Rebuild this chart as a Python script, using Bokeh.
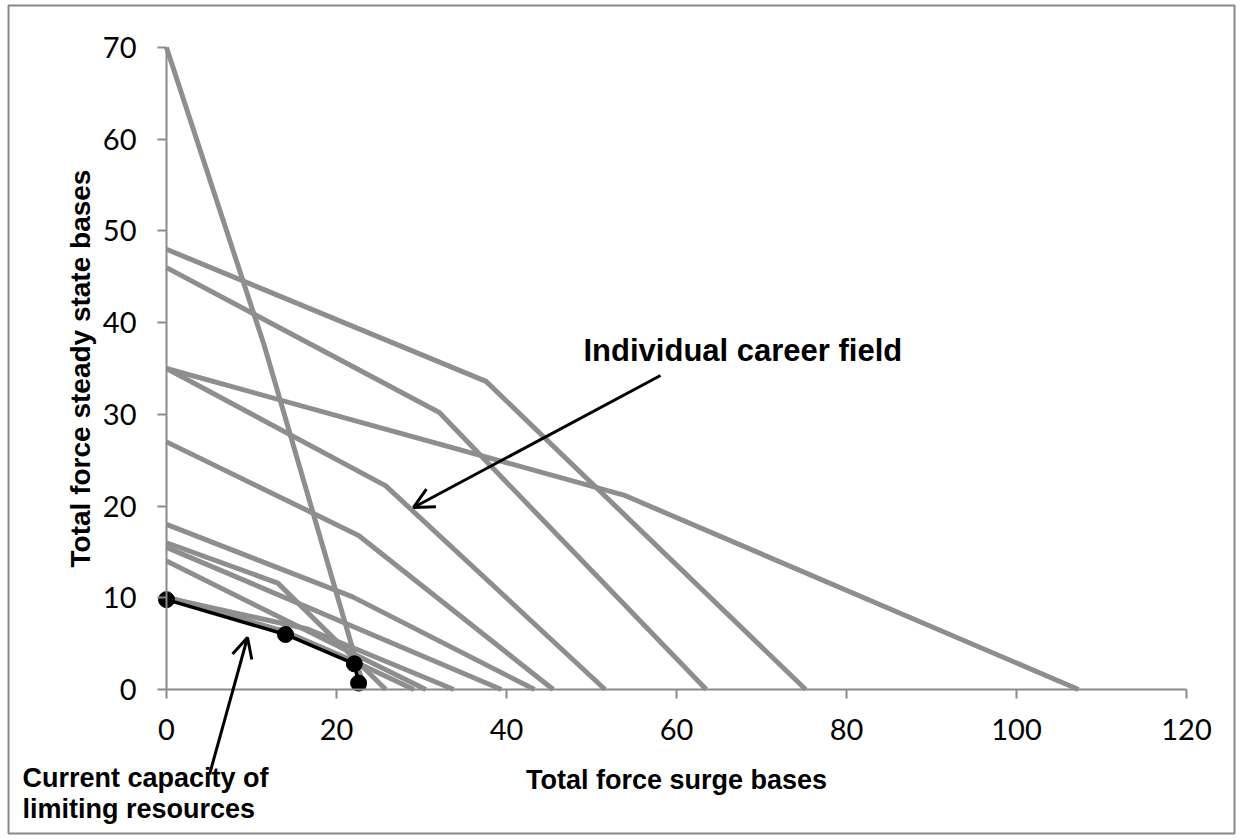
from bokeh.plotting import figure
from bokeh.models import Arrow, OpenHead, Label
from bokeh.embed import file_html
from bokeh.resources import INLINE

# Individual career field frontiers (surge bases, steady-state bases)
career_x = [
    [0, 11.5, 23.3],
    [0, 37.6, 75.2],
    [0, 32.1, 63.5],
    [0, 25.8, 51.6],
    [0, 53.8, 107.3],
    [0, 22.6, 45.5],
    [0, 21.9, 43.3],
    [0, 13.1, 25.8],
    [0, 39.4],
    [0, 30.5],
    [0, 16.6, 33.8],
    [0, 14.0, 22.0, 29.1],
]
career_y = [
    [70, 37.5, 0],
    [48, 33.6, 0],
    [46, 30.2, 0],
    [35, 22.2, 0],
    [35, 21.2, 0],
    [27, 16.8, 0],
    [18, 10.1, 0],
    [16, 11.6, 0],
    [15.5, 0],
    [14, 0],
    [10, 6.6, 0],
    [10.1, 6.3, 3.1, 0],
]

# Current capacity of limiting resources
capacity_x = [0, 14.0, 22.1, 22.6]
capacity_y = [9.8, 6.0, 2.8, 0.7]

x_ticks = [0, 20, 40, 60, 80, 100, 120]
y_ticks = [0, 10, 20, 30, 40, 50, 60, 70]

GRAY = "#8e8e8e"
AXIS_GRAY = "#8a8a8a"

p = figure(width=1236, height=836, output_backend="svg", toolbar_location=None,
           x_range=(-18.588, 125.647), y_range=(-15.70, 74.579),
           min_border_left=8, min_border_top=5, min_border_right=2, min_border_bottom=3)
p.outline_line_color = "#888888"
p.outline_line_width = 2
p.xgrid.visible = False
p.ygrid.visible = False
p.background_fill_color = "white"
p.border_fill_color = "white"

p.xaxis.fixed_location = 0
p.yaxis.fixed_location = 0
p.xaxis.bounds = (0, 120)
p.yaxis.bounds = (0, 70)
p.xaxis.ticker = x_ticks
p.yaxis.ticker = y_ticks
for ax in (p.xaxis, p.yaxis):
    ax.axis_line_color = AXIS_GRAY
    ax.axis_line_width = 2
    ax.major_tick_line_color = AXIS_GRAY
    ax.major_tick_line_width = 2
    ax.major_tick_out = 9
    ax.major_tick_in = 0
    ax.minor_tick_line_color = None
    ax.major_label_text_font = "Lato"
    ax.major_label_text_font_size = "29px"
    ax.major_label_text_color = "black"
    ax.axis_label_text_font = "Liberation Sans"
    ax.axis_label_text_font_style = "bold"
    ax.axis_label_text_color = "black"

p.xaxis.axis_label = "Total force surge bases"
p.yaxis.axis_label = "Total force steady state bases"
p.xaxis.axis_label_text_font_size = "27px"
p.yaxis.axis_label_text_font_size = "28px"
p.xaxis.major_label_standoff = 20
p.yaxis.major_label_standoff = 21
p.xaxis.axis_label_standoff = 22
p.yaxis.axis_label_standoff = 4

p.multi_line(career_x, career_y, line_color=GRAY, line_width=5)

p.line(capacity_x, capacity_y, line_color="black", line_width=3.5)
p.scatter(capacity_x, capacity_y, size=16, fill_color="black", line_color="black")

p.add_layout(Label(x=49.06, y=36.96, text="Individual career field",
                   text_font="Liberation Sans", text_font_style="bold",
                   text_font_size="31px", text_baseline="middle", text_color="black"))
p.add_layout(Arrow(x_start=58.12, y_start=34.24, x_end=29.06, y_end=19.85,
                   line_width=3, line_color="black",
                   end=OpenHead(size=20, line_width=3, line_color="black")))

p.add_layout(Label(x=-16.94, y=-9.6, text="Current capacity of",
                   text_font="Liberation Sans", text_font_style="bold",
                   text_font_size="27px", text_baseline="middle", text_color="black"))
p.add_layout(Label(x=-16.94, y=-12.98, text="limiting resources",
                   text_font="Liberation Sans", text_font_style="bold",
                   text_font_size="27px", text_baseline="middle", text_color="black"))
p.add_layout(Arrow(x_start=5.06, y_start=-9.27, x_end=9.53, y_end=5.67,
                   line_width=3, line_color="black",
                   end=OpenHead(size=20, line_width=3, line_color="black")))

open("out.html", "w").write(file_html(p, INLINE))
